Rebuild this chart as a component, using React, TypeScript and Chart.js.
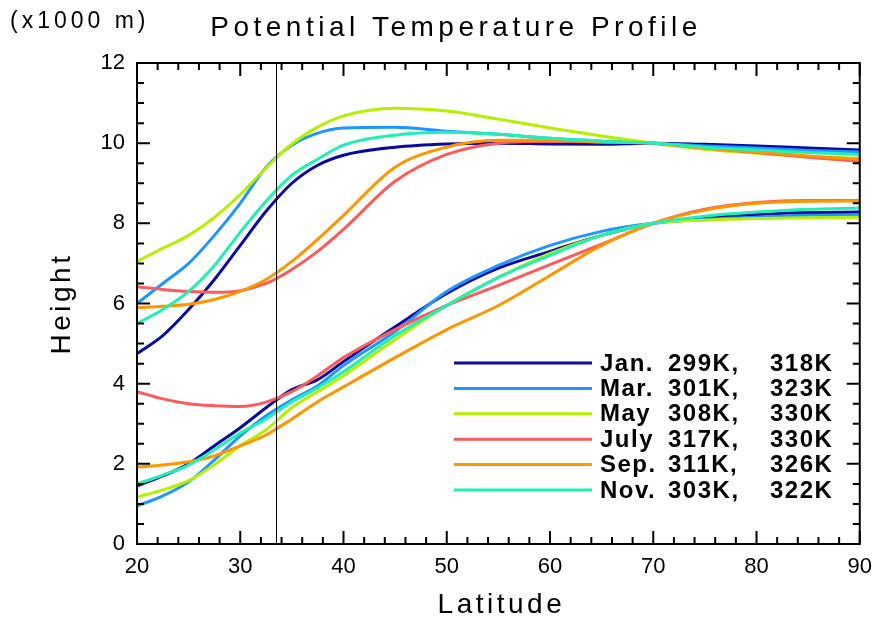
import { useEffect, useRef } from 'react';
import { Chart, registerables } from 'chart.js';

Chart.register(...registerables);

const LATITUDE = [20, 22.5, 25, 27.5, 30, 32.5, 35, 37.5, 40, 45, 50, 55, 60, 65, 70, 75, 80, 85, 90];

const MONTHS = ['Jan.', 'Mar.', 'May', 'July', 'Sep.', 'Nov.'];
const LOW_TEMPS = ['299K,', '301K,', '308K,', '317K,', '311K,', '303K,'];
const HIGH_TEMPS = ['318K', '323K', '330K', '330K', '326K', '322K'];
const COLORS = ['#0a0aa0', '#1e96ff', '#b4f000', '#ff5a5a', '#ff9600', '#20f0b4'];

// upper surfaces (km)
const JAN_UPPER = [4.75, 5.2, 5.85, 6.6, 7.45, 8.3, 9.0, 9.45, 9.7, 9.9, 9.98, 10.0, 9.98, 9.97, 10.0, 9.97, 9.93, 9.88, 9.83];
const MAR_UPPER = [6.0, 6.5, 7.0, 7.7, 8.5, 9.4, 9.95, 10.25, 10.38, 10.4, 10.3, 10.22, 10.12, 10.05, 10.0, 9.93, 9.88, 9.82, 9.78];
const MAY_UPPER = [7.05, 7.38, 7.7, 8.15, 8.72, 9.38, 9.98, 10.4, 10.68, 10.87, 10.8, 10.6, 10.38, 10.18, 10.0, 9.85, 9.75, 9.67, 9.62];
const JUL_UPPER = [6.42, 6.35, 6.3, 6.28, 6.32, 6.5, 6.85, 7.3, 7.85, 9.05, 9.72, 10.0, 10.05, 10.03, 10.0, 9.88, 9.77, 9.65, 9.55];
const SEP_UPPER = [5.9, 5.93, 5.98, 6.1, 6.3, 6.6, 7.05, 7.6, 8.2, 9.4, 9.9, 10.07, 10.07, 10.03, 10.0, 9.88, 9.78, 9.68, 9.6];
const NOV_UPPER = [5.5, 5.85, 6.3, 6.95, 7.78, 8.55, 9.2, 9.6, 9.95, 10.2, 10.27, 10.22, 10.12, 10.05, 10.0, 9.9, 9.83, 9.77, 9.72];

// lower surfaces (km)
const JAN_LOWER = [1.45, 1.7, 2.0, 2.45, 2.9, 3.4, 3.85, 4.1, 4.55, 5.42, 6.25, 6.88, 7.3, 7.7, 8.0, 8.13, 8.22, 8.27, 8.28];
const MAR_LOWER = [0.95, 1.2, 1.55, 2.1, 2.7, 3.2, 3.6, 3.95, 4.45, 5.3, 6.3, 6.95, 7.45, 7.8, 8.0, 8.1, 8.15, 8.2, 8.2];
const MAY_LOWER = [1.17, 1.35, 1.58, 1.98, 2.45, 2.85, 3.4, 3.8, 4.2, 5.1, 5.95, 6.65, 7.25, 7.7, 8.0, 8.08, 8.12, 8.14, 8.15];
const JUL_LOWER = [3.8, 3.62, 3.5, 3.45, 3.43, 3.54, 3.8, 4.2, 4.65, 5.35, 5.95, 6.45, 6.97, 7.48, 8.0, 8.35, 8.52, 8.57, 8.57];
const SEP_LOWER = [1.92, 1.97, 2.05, 2.2, 2.45, 2.72, 3.12, 3.55, 3.92, 4.65, 5.35, 5.95, 6.7, 7.45, 8.0, 8.33, 8.5, 8.55, 8.56];
const NOV_LOWER = [1.5, 1.72, 1.97, 2.35, 2.77, 3.12, 3.55, 3.9, 4.3, 5.2, 5.95, 6.65, 7.2, 7.7, 8.0, 8.18, 8.28, 8.35, 8.38];

const UPPER = [JAN_UPPER, MAR_UPPER, MAY_UPPER, JUL_UPPER, SEP_UPPER, NOV_UPPER];
const LOWER = [JAN_LOWER, MAR_LOWER, MAY_LOWER, JUL_LOWER, SEP_LOWER, NOV_LOWER];

const X_MIN = 20;
const X_MAX = 90;
const Y_MIN = 0;
const Y_MAX = 12;
const MARKER_LAT = 33.5;

const TITLE = 'Potential Temperature Profile';
const UNITS = '(x1000 m)';
const X_TITLE = 'Latitude';
const Y_TITLE = 'Height';

const FONT = '"Liberation Sans", Arial, sans-serif';

const decorPlugin = {
  id: 'decor',
  afterDatasetsDraw(chart: any) {
    const { ctx, chartArea: a, scales } = chart;
    const x = scales.x;
    const y = scales.y;
    ctx.save();
    // vertical marker line
    const mx = Math.round(x.getPixelForValue(MARKER_LAT)) + 0.5;
    ctx.strokeStyle = '#000';
    ctx.lineWidth = 1;
    ctx.beginPath();
    ctx.moveTo(mx, a.top);
    ctx.lineTo(mx, a.bottom);
    ctx.stroke();

    // inward ticks
    ctx.lineWidth = 2;
    ctx.beginPath();
    for (let v = X_MIN; v <= X_MAX; v += 2) {
      const px = x.getPixelForValue(v);
      const len = v % 10 === 0 ? 13 : 7;
      ctx.moveTo(px, a.bottom);
      ctx.lineTo(px, a.bottom - len);
      ctx.moveTo(px, a.top);
      ctx.lineTo(px, a.top + len);
    }
    for (let v = Y_MIN; v <= Y_MAX; v += 0.5) {
      const py = y.getPixelForValue(v);
      const len = v % 2 === 0 ? 13 : 7;
      ctx.moveTo(a.left, py);
      ctx.lineTo(a.left + len, py);
      ctx.moveTo(a.right, py);
      ctx.lineTo(a.right - len, py);
    }
    ctx.stroke();

    // frame
    ctx.lineWidth = 2;
    ctx.strokeRect(a.left, a.top, a.right - a.left, a.bottom - a.top);

    // legend
    const lx0 = a.left + 317;
    const lx1 = a.left + 455;
    const ly0 = a.top + 300;
    const dy = 25.4;
    ctx.font = `bold 24px ${FONT}`;
    ctx.textBaseline = 'middle';
    ctx.textAlign = 'left';
    ctx.fillStyle = '#000';
    MONTHS.forEach((m, i) => {
      const yy = ly0 + i * dy;
      ctx.strokeStyle = COLORS[i];
      ctx.lineWidth = 3;
      ctx.beginPath();
      ctx.moveTo(lx0, yy);
      ctx.lineTo(lx1, yy);
      ctx.stroke();
      (ctx as any).letterSpacing = '1.5px';
      ctx.fillText(m, lx1 + 8, yy + 1);
      ctx.fillText(LOW_TEMPS[i], lx1 + 76, yy + 1);
      ctx.fillText(HIGH_TEMPS[i], lx1 + 178, yy + 1);
      (ctx as any).letterSpacing = '0px';
    });
    ctx.restore();
  },
  afterDraw(chart: any) {
    const { ctx, chartArea: a } = chart;
    ctx.save();
    ctx.fillStyle = '#000';
    ctx.textBaseline = 'middle';
    ctx.textAlign = 'center';
    ctx.font = `28px ${FONT}`;
    (ctx as any).letterSpacing = '4.5px';
    ctx.fillText(TITLE, 456, 28);
    (ctx as any).letterSpacing = '4px';
    ctx.textAlign = 'left';
    ctx.font = `23px ${FONT}`;
    ctx.fillText(UNITS, 10, 22);
    ctx.textAlign = 'center';
    ctx.font = `28px ${FONT}`;
    (ctx as any).letterSpacing = '3.5px';
    ctx.fillText(X_TITLE, (a.left + a.right) / 2 + 3, 605);
    ctx.translate(62, (a.top + a.bottom) / 2);
    ctx.rotate(-Math.PI / 2);
    ctx.fillText(Y_TITLE, 0, 0);
    ctx.restore();
  },
};

export default function App() {
  const canvasRef = useRef<HTMLCanvasElement | null>(null);

  useEffect(() => {
    const canvas = canvasRef.current;
    if (!canvas) return;
    const datasets: any[] = [];
    for (let i = MONTHS.length - 1; i >= 0; i--) {
      [UPPER[i], LOWER[i]].forEach((vals, k) => {
        datasets.push({
          label: `${MONTHS[i]} ${k === 0 ? 'upper' : 'lower'}`,
          data: LATITUDE.map((lat, j) => ({ x: lat, y: vals[j] })),
          borderColor: COLORS[i],
          backgroundColor: COLORS[i],
          borderWidth: 3,
          pointRadius: 0,
          cubicInterpolationMode: 'monotone',
          fill: false,
        });
      });
    }
    const chart = new Chart(canvas, {
      type: 'line',
      data: { datasets },
      options: {
        animation: false,
        responsive: false,
        events: [],
        layout: { padding: { left: 0, top: 63, right: 18, bottom: 0 } },
        plugins: {
          legend: { display: false },
          tooltip: { enabled: false },
          title: { display: false },
        },
        scales: {
          x: {
            type: 'linear',
            min: X_MIN,
            max: X_MAX,
            grid: { display: false, drawTicks: false },
            border: { display: false },
            ticks: {
              stepSize: 10,
              padding: 10,
              color: '#000',
              font: { family: FONT, size: 22 },
              maxRotation: 0,
            },
            afterFit: (s: any) => {
              s.height = 79;
            },
          },
          y: {
            type: 'linear',
            min: Y_MIN,
            max: Y_MAX,
            grid: { display: false, drawTicks: false },
            border: { display: false },
            ticks: {
              stepSize: 2,
              padding: 12,
              color: '#000',
              font: { family: FONT, size: 22 },
            },
            afterFit: (s: any) => {
              s.width = 137;
            },
          },
        },
      },
      plugins: [decorPlugin],
    });
    return () => chart.destroy();
  }, []);

  return (
    <div style={{ position: 'absolute', left: 0, top: 0, width: 882, height: 623, background: '#fff' }}>
      <canvas ref={canvasRef} width={882} height={623} style={{ width: 882, height: 623, display: 'block' }} />
    </div>
  );
}
